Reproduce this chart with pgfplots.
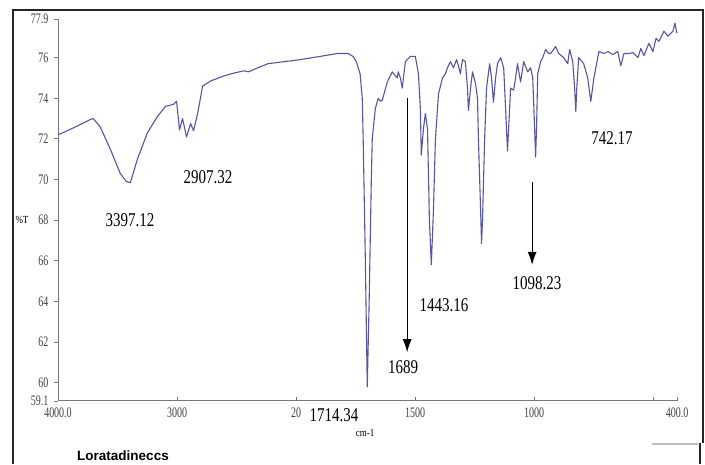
\documentclass[border=0pt]{standalone}
\usepackage{fontspec}
\setmainfont{Liberation Serif}
\setsansfont{Liberation Sans}
\usepackage{pgfplots}
\pgfplotsset{compat=1.18}
\usetikzlibrary{arrows.meta}
\definecolor{spec}{RGB}{85,85,168}
\definecolor{axgray}{RGB}{120,120,120}
\pgfplotstableread{
wn T
4000 72.2
3941 72.35
3814 72.7
3730 72.95
3705 73.0
3646 72.6
3561 71.5
3477 70.3
3426 69.9
3392 69.85
3333 71.0
3249 72.3
3165 73.1
3097 73.6
3030 73.7
3004 73.85
2979 72.45
2954 73.0
2920 72.1
2886 72.75
2861 72.4
2827 73.25
2785 74.6
2717 74.85
2630 75.05
2548 75.2
2440 75.35
2400 75.3
2321 75.5
2236 75.7
2100 75.8
1983 75.9
1899 76.06
1827 76.2
1781 76.2
1760 76.05
1747 75.8
1731 75.2
1722 74.0
1718 71.9
1709 66.0
1701 59.8
1693 64.0
1684 70.0
1680 72.0
1667 73.5
1655 74.0
1646 73.85
1638 73.9
1617 74.8
1596 75.3
1583 75.1
1575 75.0
1571 75.3
1562 75.0
1554 74.5
1541 75.8
1520 76.06
1499 76.06
1486 75.2
1478 73.5
1474 71.2
1465 72.5
1457 73.25
1448 72.5
1440 68.0
1432 65.8
1423 68.5
1415 71.9
1402 74.2
1385 75.0
1373 75.2
1364 75.5
1352 75.8
1339 75.5
1326 75.9
1318 75.6
1310 75.2
1301 75.9
1289 75.8
1280 74.5
1276 73.4
1267 74.5
1259 75.3
1246 74.7
1238 74.0
1234 72.0
1225 68.5
1221 66.85
1217 68.0
1208 72.0
1200 74.5
1187 75.7
1179 75.0
1171 73.8
1162 75.0
1154 75.7
1141 76.0
1128 75.5
1120 73.5
1112 71.4
1103 73.5
1099 74.5
1086 74.4
1078 75.0
1070 75.7
1057 74.8
1044 75.8
1027 75.3
1015 75.5
1006 75.0
998 72.5
994 71.1
990 72.5
985 75.2
973 75.8
964 76.0
952 76.4
939 76.2
931 76.2
918 76.4
910 76.55
897 76.2
876 76.0
859 75.7
851 76.4
838 75.8
830 74.5
825 73.35
821 74.5
813 76.0
792 75.7
775 75.0
762 73.85
749 75.0
728 76.3
707 76.2
690 76.3
670 76.15
649 76.3
636 75.6
623 76.2
602 76.2
585 76.25
564 76.0
552 76.45
539 76.1
518 76.7
501 76.3
488 76.95
476 76.8
455 77.3
438 77.05
417 77.3
409 77.7
404 77.4
400 77.2
}\spectrum
\begin{document}
\begin{tikzpicture}
\path[use as bounding box] (0pt,0pt) rectangle (705pt,464pt);
% outer frame
\draw[line width=1.3pt, black!85] (13pt,0pt) -- (13pt,454pt) -- (703pt,454pt) -- (703pt,21pt);
\draw[line width=1.3pt, black!85] (700pt,21pt) -- (700pt,0pt);
\draw[line width=2pt, black!25] (652pt,20pt) -- (698pt,20pt);
\begin{axis}[
  at={(58pt,63pt)}, anchor=south west,
  scale only axis, width=619pt, height=382pt,
  xmin=0, xmax=5200, ymin=59.1, ymax=77.9,
  axis x line=bottom, axis y line=left,
  axis line style={axgray, line width=1pt, -},
  x filter/.expression={x>=2000 ? 4000-x : 6000-2*x},
  xtick={0,1000,2000,3000,4000,5000,5200},
  xticklabels={4000.0,3000,20,1500,1000,,400.0},
  ytick={59.1,60,62,64,66,68,70,72,74,76,77.9},
  yticklabels={59.1,60,62,64,66,68,70,72,74,76,77.9},
  x tick style={axgray, line width=0.8pt},
  y tick style={axgray, line width=0.8pt},
  xtick align=inside, ytick align=outside,
  major tick length=4pt,
  ticklabel style={font=\fontsize{10}{10}\selectfont, text=black!75, yscale=1.45},
  xticklabel style={yshift=-1pt},
  yticklabel style={xshift=-2pt},
  clip=false,
]
\addplot[spec, line width=1.1pt, line join=round] table[x=wn, y=T] {\spectrum};
\draw[black, line width=1pt, -{Latex[length=13pt,width=9pt]}] (axis cs:2933,74.0) -- (axis cs:2933,61.5);
\draw[black, line width=1pt, -{Latex[length=13pt,width=9pt]}] (axis cs:3983,69.9) -- (axis cs:3983,65.8);
\end{axis}
\tikzset{pk/.style={font=\fontsize{15}{15}\selectfont, yscale=1.3, inner sep=1pt}}
\node[pk] at (130pt,244pt) {3397.12};
\node[pk] at (208pt,287pt) {2907.32};
\node[pk, fill=white, inner sep=3pt] at (334pt,49pt) {1714.34};
\node[pk] at (403pt,97pt) {1689};
\node[pk] at (444pt,159pt) {1443.16};
\node[pk] at (537pt,181pt) {1098.23};
\node[pk] at (612pt,326pt) {742.17};
\node[font=\fontsize{9}{9}\selectfont, yscale=1.2] at (22pt,244pt) {\%T};
\node[font=\fontsize{9}{9}\selectfont, yscale=1.2] at (365pt,31pt) {cm-1};
\node[font=\sffamily\bfseries\fontsize{13.5}{13.5}\selectfont, anchor=base] at (123pt,3pt) {Loratadineccs};
\end{tikzpicture}
\end{document}
